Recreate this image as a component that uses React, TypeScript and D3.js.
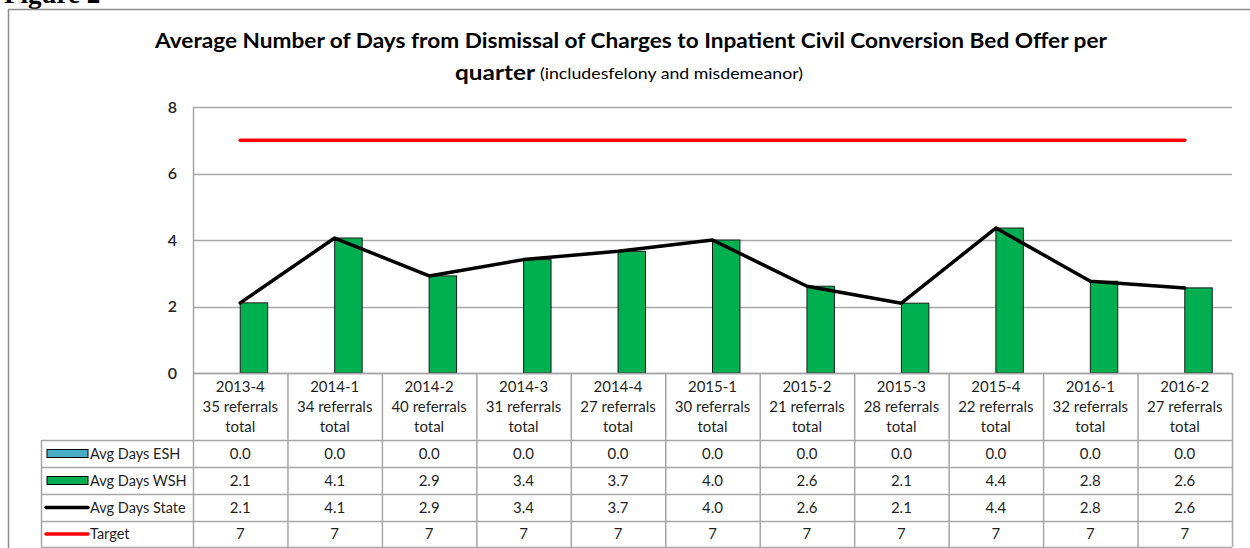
import React from "react";
import * as d3 from "d3";

const categories = ["2013-4", "2014-1", "2014-2", "2014-3", "2014-4", "2015-1", "2015-2", "2015-3", "2015-4", "2016-1", "2016-2"];
const referrals = [35, 34, 40, 31, 27, 30, 21, 28, 22, 32, 27];
const eshValues = [0, 0, 0, 0, 0, 0, 0, 0, 0, 0, 0];
const wshValues = [2.11, 4.06, 2.92, 3.41, 3.66, 4.0, 2.61, 2.1, 4.36, 2.76, 2.56];
const stateValues = [2.11, 4.06, 2.92, 3.41, 3.66, 4.0, 2.61, 2.1, 4.36, 2.76, 2.56];
const targetValues = [7, 7, 7, 7, 7, 7, 7, 7, 7, 7, 7];
const yTicks = [0, 2, 4, 6, 8];
const seriesNames = ["Avg Days ESH", "Avg Days WSH", "Avg Days State", "Target"];

const W = 1250;
const H = 548;
const plotL = 193;
const plotR = 1232;
const plotT = 107;
const plotB = 373;
const legendL = 41;
const rowEdges = [373, 440, 467, 494, 521, 547];

const FONT = "Lato, 'Open Sans', sans-serif";
const GRID = "#a6a6a6";
const TXT = "#1f1f1f";

export default function App() {
  const x = d3.scaleBand<string>().domain(categories).range([plotL, plotR]).paddingInner(0).paddingOuter(0);
  const inner = d3
    .scaleBand<string>()
    .domain(["ESH", "WSH"])
    .range([0, x.bandwidth()])
    .paddingInner(0)
    .paddingOuter(0.72);
  const y = d3.scaleLinear().domain([0, 8]).range([plotB, plotT]);
  const cx = (c: string) => (x(c) as number) + x.bandwidth() / 2;

  const line = d3
    .line<number>()
    .x((_, i) => cx(categories[i]))
    .y((d) => y(d));

  const fmt = (v: number) => v.toFixed(1);
  const rows = [
    { name: seriesNames[0], vals: eshValues.map(fmt) },
    { name: seriesNames[1], vals: wshValues.map(fmt) },
    { name: seriesNames[2], vals: stateValues.map(fmt) },
    { name: seriesNames[3], vals: targetValues.map((v) => String(v)) },
  ];

  return (
    <svg
      width={W}
      height={H}
      style={{ position: "absolute", left: 0, top: 0, background: "#fff" }}
      fontFamily={FONT}
    >
      <rect x={0} y={0} width={W} height={H} fill="#fff" />
      {/* Figure caption, cut at top as in the reference */}
      <text x={4} y={3} fontFamily="'Liberation Serif', serif" fontWeight="bold" fontSize={27} fill="#000">
        Figure 2
      </text>
      {/* outer frame */}
      <line x1={8.5} y1={9} x2={8.5} y2={H} stroke="#8c8c8c" strokeWidth={1.5} />
      <line x1={8} y1={9.5} x2={W} y2={9.5} stroke="#8c8c8c" strokeWidth={1.5} />

      {/* Title */}
      <text
        x={155}
        y={48}
        fontWeight="bold"
        fontSize={21}
        fill="#000"
        textLength={952}
        lengthAdjust="spacingAndGlyphs"
      >
        Average Number of Days from Dismissal of Charges to Inpatient Civil Conversion Bed Offer per
      </text>
      <text x={455} y={80} fontWeight="bold" fontSize={21} fill="#000" textLength={80} lengthAdjust="spacingAndGlyphs">
        quarter
      </text>
      <text x={540} y={79} fontSize={15} fill="#000" textLength={263} lengthAdjust="spacingAndGlyphs">
        (includesfelony and misdemeanor)
      </text>

      {/* gridlines */}
      {yTicks.map((t) => (
        <line key={t} x1={plotL} x2={plotR} y1={Math.round(y(t)) + 0.5} y2={Math.round(y(t)) + 0.5} stroke={GRID} strokeWidth={1.5} />
      ))}
      <line x1={plotL + 0.5} x2={plotL + 0.5} y1={plotT} y2={rowEdges[5]} stroke={GRID} strokeWidth={1.5} />
      {yTicks.map((t) => (
        <text key={"t" + t} x={177} y={y(t)} dy="0.35em" textAnchor="end" fontSize={16} fontWeight={600} fill="#262626">
          {t}
        </text>
      ))}

      {/* bars */}
      {categories.map((c, i) => (
        <g key={"b" + c}>
          <rect
            x={(x(c) as number) + (inner("ESH") as number)}
            y={y(eshValues[i])}
            width={inner.bandwidth()}
            height={y(0) - y(eshValues[i])}
            fill="#4bacc6"
            stroke={eshValues[i] > 0 ? "#000" : "none"}
          />
          <rect
            x={(x(c) as number) + (inner("WSH") as number)}
            y={y(wshValues[i])}
            width={inner.bandwidth()}
            height={y(0) - y(wshValues[i])}
            fill="#00b050"
            stroke="#1a1a1a"
            strokeWidth={1}
          />
        </g>
      ))}

      {/* lines */}
      <path d={line(targetValues) as string} fill="none" stroke="#ff0000" strokeWidth={3.5} strokeLinecap="round" />
      <path d={line(stateValues) as string} fill="none" stroke="#000" strokeWidth={3.5} strokeLinejoin="round" strokeLinecap="round" />

      {/* data table */}
      {rowEdges.map((ry, k) => (
        <line
          key={"h" + k}
          x1={k === 0 ? plotL : legendL}
          x2={plotR}
          y1={ry + 0.5}
          y2={ry + 0.5}
          stroke={GRID}
          strokeWidth={1.5}
        />
      ))}
      <line x1={legendL + 0.5} x2={legendL + 0.5} y1={rowEdges[1]} y2={rowEdges[5]} stroke={GRID} strokeWidth={1.5} />
      {categories.map((c) => (
        <line
          key={"v" + c}
          x1={(x(c) as number) + x.bandwidth() + 0.5}
          x2={(x(c) as number) + x.bandwidth() + 0.5}
          y1={plotB}
          y2={rowEdges[5]}
          stroke={GRID}
          strokeWidth={1.5}
        />
      ))}
      {categories.map((c, i) => (
        <text key={"c" + c} x={cx(c)} textAnchor="middle" fontSize={15} fill={TXT}>
          <tspan x={cx(c)} y={392}>{c}</tspan>
          <tspan x={cx(c)} y={412}>{referrals[i] + " referrals"}</tspan>
          <tspan x={cx(c)} y={432}>total</tspan>
        </text>
      ))}
      {rows.map((r, k) =>
        r.vals.map((v, i) => (
          <text
            key={"r" + k + "-" + i}
            x={cx(categories[i])}
            y={(rowEdges[k + 1] + rowEdges[k + 2]) / 2}
            dy="0.35em"
            textAnchor="middle"
            fontSize={15}
            fill={TXT}
          >
            {v}
          </text>
        ))
      )}

      {/* legend keys */}
      {rows.map((r, k) => {
        const cy = (rowEdges[k + 1] + rowEdges[k + 2]) / 2;
        return (
          <g key={"l" + k}>
            {k === 0 && <rect x={47} y={cy - 4} width={41} height={8} fill="#4bacc6" stroke="#000" strokeWidth={1} />}
            {k === 1 && <rect x={47} y={cy - 4} width={41} height={8} fill="#00b050" stroke="#000" strokeWidth={1} />}
            {k === 2 && <line x1={46} x2={88} y1={cy} y2={cy} stroke="#000" strokeWidth={3.5} strokeLinecap="round" />}
            {k === 3 && <line x1={46} x2={88} y1={cy} y2={cy} stroke="#ff0000" strokeWidth={3.5} strokeLinecap="round" />}
            <text x={90} y={cy} dy="0.35em" fontSize={14.5} fill={TXT}>
              {r.name}
            </text>
          </g>
        );
      })}
    </svg>
  );
}
